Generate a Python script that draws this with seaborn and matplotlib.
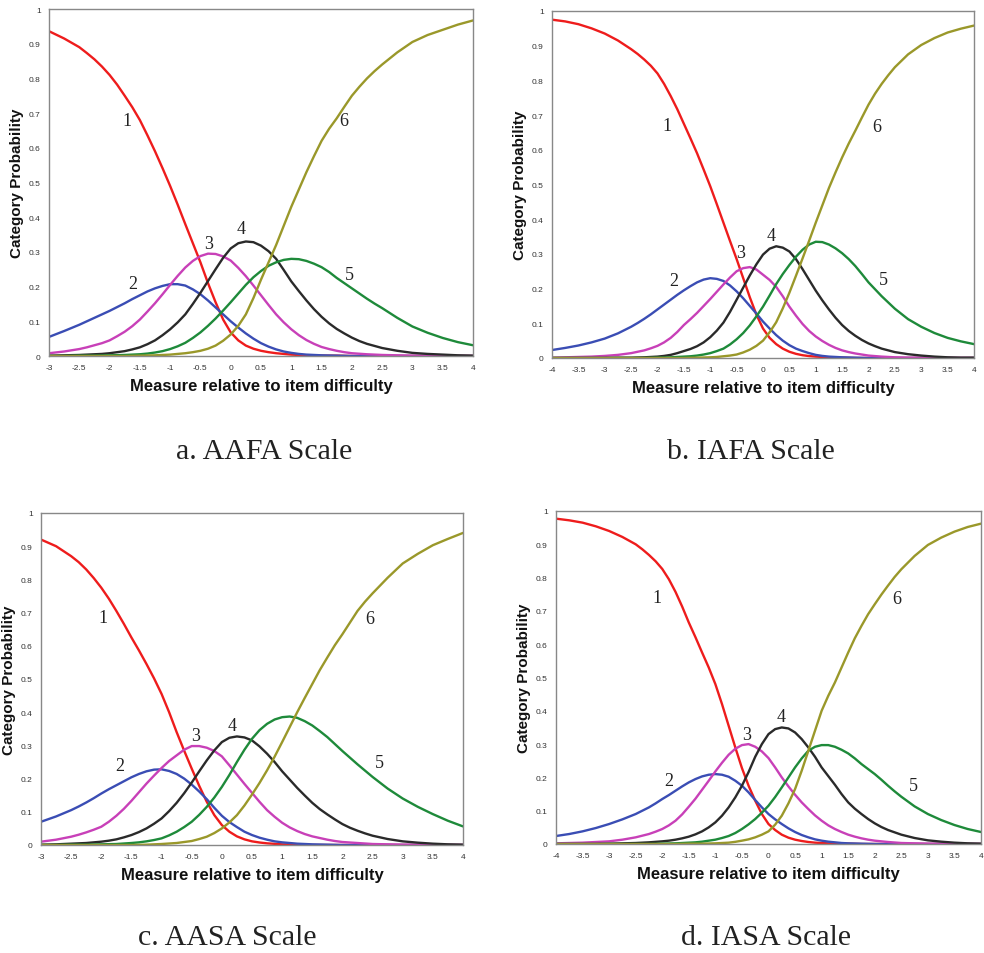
import matplotlib
matplotlib.use("Agg")
import matplotlib.pyplot as plt
import numpy as np
import pandas as pd
import seaborn as sns

# ---------------- data ----------------
x_a = [-3, -2.75,
       -2.5, -2.375, -2.25, -2.125, -2, -1.875, -1.75, -1.625, -1.5,
       -1.375, -1.25, -1.125, -1, -0.875, -0.75, -0.625, -0.5, -0.375, -0.25, -0.125, 0,
       0.125, 0.25, 0.375, 0.5, 0.625, 0.75, 0.875, 1, 1.125, 1.25, 1.375,
       1.5, 1.625, 1.75, 1.875, 2, 2.125, 2.25, 2.375, 2.5,
       2.75, 3, 3.25, 3.5, 3.75, 4]
a_cat1 = [.936, .915,
          .89, .873, .855, .834, .81, .782, .75, .717, .68,
          .636, .59, .541, .49, .436, .38, .325, .27, .21, .155, .105, .068,
          .045, .03, .021, .015, .011, .008, .006, .004, .003, .002, .0015,
          .001, .001, .001, .0005, 0, 0, 0, 0, 0,
          0, 0, 0, 0, 0, 0]
a_cat2 = [.055, .072,
          .09, .1, .11, .12, .13, .141, .152, .164, .175,
          .186, .195, .202, .207, .207, .203, .192, .178, .16, .14, .12, .10,
          .082, .065, .05, .037, .027, .019, .013, .009, .006, .004, .003,
          .002, .0015, .001, .0005, 0, 0, 0, 0, 0,
          0, 0, 0, 0, 0, 0]
a_cat3 = [.008, .013,
          .02, .025, .031, .037, .045, .057, .07, .086, .105,
          .128, .152, .178, .205, .231, .255, .274, .288, .295, .294, .287, .275,
          .254, .23, .203, .175, .147, .12, .097, .077, .06, .046, .035,
          .026, .02, .015, .011, .008, .0065, .005, .004, .003,
          .002, .001, .001, 0, 0, 0]
a_cat4 = [.001, .002,
          .003, .004, .005, .006, .008, .011, .014, .019, .025,
          .034, .045, .06, .077, .097, .12, .15, .182, .216, .25, .283, .31,
          .325, .33, .328, .318, .302, .28, .248, .215, .187, .16, .135,
          .113, .094, .078, .065, .053, .043, .035, .029, .023,
          .015, .009, .006, .004, .002, .001]
a_cat5 = [0, 0,
          .001, .001, .001, .0015, .002, .0025, .003, .004, .005,
          .007, .01, .014, .02, .028, .038, .052, .068, .087, .108, .131, .155,
          .18, .205, .227, .245, .26, .27, .277, .28, .279, .274, .266,
          .256, .242, .225, .21, .195, .18, .165, .151, .138,
          .11, .085, .067, .052, .04, .031]
a_cat6 = [0, 0,
          0, 0, 0, 0, 0, 0, 0, .0005, .001,
          .0015, .002, .003, .004, .006, .008, .011, .015, .021, .03, .044, .062,
          .087, .12, .167, .22, .27, .32, .375, .43, .48, .53, .576,
          .62, .655, .685, .718, .75, .776, .80, .821, .84,
          .875, .905, .925, .94, .955, .967]

x_b = [-4, -3.75, -3.5, -3.25, -3, -2.75,
       -2.5, -2.375, -2.25, -2.125, -2, -1.875, -1.75, -1.625, -1.5,
       -1.375, -1.25, -1.125, -1, -0.875, -0.75, -0.625, -0.5, -0.375, -0.25, -0.125, 0,
       0.125, 0.25, 0.375, 0.5, 0.625, 0.75, 0.875, 1, 1.125, 1.25, 1.375,
       1.5, 1.625, 1.75, 1.875, 2, 2.125, 2.25, 2.375, 2.5,
       2.75, 3, 3.25, 3.5, 3.75, 4]
b_cat1 = [.975, .970, .962, .950, .935, .915,
          .89, .876, .86, .842, .82, .79, .755, .717, .675,
          .633, .59, .543, .495, .443, .39, .337, .285, .23, .175, .125, .085,
          .058, .04, .027, .018, .012, .008, .0055, .004, .003, .002, .0015,
          .001, .0005, 0, 0, 0, 0, 0, 0, 0,
          0, 0, 0, 0, 0, 0]
b_cat2 = [.023, .029, .036, .045, .056, .071,
          .09, .101, .113, .126, .14, .154, .168, .182, .195,
          .207, .218, .226, .23, .228, .222, .209, .192, .172, .15, .128, .105,
          .085, .066, .05, .037, .027, .02, .014, .009, .006, .004, .003,
          .002, .0015, .001, .0005, 0, 0, 0, 0, 0,
          0, 0, 0, 0, 0, 0]
b_cat3 = [.001, .002, .003, .004, .006, .009,
          .014, .018, .022, .028, .035, .045, .058, .075, .095,
          .112, .13, .15, .17, .191, .212, .232, .25, .259, .262, .255, .24,
          .225, .205, .178, .148, .122, .098, .078, .062, .049, .038, .029,
          .022, .017, .013, .01, .007, .0055, .004, .003, .002,
          .001, .001, 0, 0, 0, 0]
b_cat4 = [0, 0, 0, 0, 0, .001,
          .001, .0015, .002, .003, .004, .006, .009, .014, .02,
          .026, .034, .045, .06, .079, .102, .133, .168, .203, .238, .27, .298,
          .315, .322, .318, .307, .285, .256, .225, .194, .166, .14, .116,
          .095, .078, .064, .052, .042, .034, .027, .022, .017,
          .011, .007, .004, .002, .001, .001]
b_cat5 = [0, 0, 0, 0, 0, 0,
          0, 0, 0, .0005, .001, .0015, .002, .003, .004,
          .005, .007, .01, .014, .02, .027, .039, .054, .072, .094, .12, .148,
          .18, .213, .242, .268, .292, .312, .327, .335, .334, .327, .316,
          .302, .285, .265, .242, .218, .198, .178, .16, .142,
          .112, .09, .072, .058, .048, .04]
b_cat6 = [0, 0, 0, 0, 0, 0,
          0, 0, 0, 0, 0, 0, 0, 0, 0,
          .0005, .001, .0015, .002, .003, .005, .007, .01, .016, .024, .035, .05,
          .074, .103, .143, .188, .237, .287, .338, .39, .44, .49, .535,
          .578, .618, .655, .693, .73, .762, .79, .815, .838,
          .875, .902, .922, .938, .949, .958]

x_c = [-3, -2.75,
       -2.5, -2.375, -2.25, -2.125, -2, -1.875, -1.75, -1.625, -1.5,
       -1.375, -1.25, -1.125, -1, -0.875, -0.75, -0.625, -0.5, -0.375, -0.25, -0.125, 0,
       0.125, 0.25, 0.375, 0.5, 0.625, 0.75, 0.875, 1, 1.125, 1.25, 1.375,
       1.5, 1.625, 1.75, 1.875, 2, 2.125, 2.25, 2.375, 2.5,
       2.75, 3, 3.25, 3.5, 3.75, 4]
c_cat1 = [.92, .90,
          .87, .852, .83, .804, .775, .742, .705, .666, .625,
          .586, .545, .502, .455, .4, .34, .284, .23, .178, .13, .09, .06,
          .04, .026, .017, .011, .0075, .005, .0035, .002, .0015, .001, .0005,
          0, 0, 0, 0, 0, 0, 0, 0, 0,
          0, 0, 0, 0, 0, 0]
c_cat2 = [.07, .086,
          .105, .116, .128, .141, .155, .168, .18, .192, .204,
          .214, .222, .227, .228, .223, .214, .2, .182, .161, .138, .112, .088,
          .069, .054, .04, .03, .022, .016, .011, .008, .006, .004, .003,
          .002, .0015, .001, .0005, 0, 0, 0, 0, 0,
          0, 0, 0, 0, 0, 0]
c_cat3 = [.01, .016,
          .025, .031, .038, .046, .055, .07, .088, .109, .133,
          .159, .185, .209, .232, .253, .27, .287, .298, .298, .293, .283, .267,
          .24, .212, .184, .157, .13, .105, .085, .067, .053, .042, .033,
          .026, .021, .016, .012, .009, .0075, .006, .0045, .003,
          .002, .001, .001, 0, 0, 0]
c_cat4 = [.001, .002,
          .004, .005, .006, .008, .01, .013, .017, .023, .03,
          .039, .05, .064, .08, .102, .127, .156, .188, .222, .255, .285, .31,
          .323, .327, .324, .315, .297, .275, .25, .222, .197, .172, .149,
          .127, .108, .092, .077, .063, .052, .043, .035, .028,
          .018, .011, .007, .004, .002, .001]
c_cat5 = [0, 0,
          .001, .001, .001, .0015, .002, .0025, .003, .0045, .006,
          .008, .011, .015, .02, .029, .04, .054, .07, .091, .115, .143, .175,
          .211, .25, .287, .32, .346, .365, .378, .385, .387, .383, .373,
          .36, .343, .325, .304, .283, .263, .243, .224, .205,
          .17, .14, .115, .093, .073, .056]
c_cat6 = [0, 0,
          0, 0, 0, 0, 0, 0, 0, 0, 0,
          .0005, .001, .002, .003, .0045, .006, .009, .012, .018, .025, .036, .05,
          .068, .09, .119, .152, .187, .225, .266, .31, .355, .4, .443,
          .485, .527, .565, .602, .635, .67, .705, .733, .758,
          .805, .848, .877, .903, .922, .94]

x_d = [-4, -3.75, -3.5, -3.25, -3, -2.75,
       -2.5, -2.375, -2.25, -2.125, -2, -1.875, -1.75, -1.625, -1.5,
       -1.375, -1.25, -1.125, -1, -0.875, -0.75, -0.625, -0.5, -0.375, -0.25, -0.125, 0,
       0.125, 0.25, 0.375, 0.5, 0.625, 0.75, 0.875, 1, 1.125, 1.25, 1.375,
       1.5, 1.625, 1.75, 1.875, 2, 2.125, 2.25, 2.375, 2.5,
       2.75, 3, 3.25, 3.5, 3.75, 4]
d_cat1 = [.977, .972, .965, .954, .94, .922,
          .9, .885, .868, .849, .826, .795, .757, .713, .665,
          .621, .575, .53, .48, .42, .355, .29, .228, .175, .13, .09, .06,
          .042, .028, .019, .013, .009, .006, .004, .003, .002, .001, .001,
          .001, .0005, 0, 0, 0, 0, 0, 0, 0,
          0, 0, 0, 0, 0, 0]
d_cat2 = [.024, .03, .038, .048, .06, .074,
          .09, .1, .11, .122, .135, .147, .16, .173, .185,
          .195, .203, .208, .21, .208, .202, .19, .175, .155, .132, .11, .09,
          .074, .06, .047, .036, .027, .02, .014, .01, .007, .005, .003,
          .002, .0015, .001, .0005, 0, 0, 0, 0, 0,
          0, 0, 0, 0, 0, 0]
d_cat3 = [.002, .003, .004, .006, .008, .013,
          .02, .025, .03, .037, .045, .056, .07, .089, .112,
          .136, .163, .19, .218, .244, .268, .286, .297, .3, .292, .278, .258,
          .23, .2, .173, .148, .125, .105, .086, .07, .056, .045, .036,
          .028, .022, .017, .013, .01, .008, .006, .0045, .003,
          .002, .001, .001, 0, 0, 0]
d_cat4 = [0, 0, 0, 0, .001, .002,
          .003, .004, .005, .0065, .008, .01, .013, .017, .022,
          .029, .038, .05, .065, .085, .11, .14, .175, .216, .262, .3, .33,
          .345, .35, .347, .335, .315, .29, .262, .23, .204, .178, .15,
          .125, .106, .09, .075, .062, .051, .042, .035, .028,
          .018, .011, .007, .004, .002, .001]
d_cat5 = [0, 0, 0, 0, 0, 0,
          0, 0, 0, .0005, .001, .0015, .002, .003, .004,
          .005, .007, .01, .013, .018, .024, .033, .045, .059, .075, .094, .115,
          .141, .17, .2, .23, .257, .28, .292, .297, .297, .292, .283,
          .272, .257, .24, .225, .21, .193, .175, .158, .142,
          .113, .09, .072, .057, .045, .036]
d_cat6 = [0, 0, 0, 0, 0, 0,
          0, 0, 0, 0, 0, 0, 0, .0005, .001,
          .001, .001, .0015, .002, .003, .004, .0065, .01, .014, .02, .028, .038,
          .058, .085, .122, .165, .22, .28, .34, .4, .445, .485, .53,
          .575, .618, .655, .69, .72, .749, .776, .802, .825,
          .865, .898, .92, .938, .952, .962]

categories = ["1", "2", "3", "4", "5", "6"]
captions = ["a. AAFA Scale", "b. IAFA Scale", "c. AASA Scale", "d. IASA Scale"]
x_label = "Measure relative to item difficulty"
y_label = "Category Probability"

# curve-number label positions (data coords) per panel
lab_a = [(-1.72, 0.68), (-1.62, 0.21), (-0.37, 0.325), (0.17, 0.366), (1.96, 0.234), (1.87, 0.679)]
lab_b = [(-1.82, 0.669), (-1.70, 0.222), (-0.43, 0.305), (0.15, 0.354), (2.28, 0.227), (2.16, 0.667)]
lab_c = [(-1.98, 0.685), (-1.70, 0.239), (-0.44, 0.331), (0.17, 0.361), (2.62, 0.247), (2.45, 0.683)]
lab_d = [(-2.09, 0.74), (-1.88, 0.192), (-0.42, 0.328), (0.23, 0.383), (2.73, 0.175), (2.41, 0.738)]

# ---------------- style ----------------
sns.set_theme(style="white")
plt.rcParams["font.family"] = ["Liberation Sans", "DejaVu Sans"]
plt.rcParams["axes.unicode_minus"] = False

palette = {"1": "#ee1c1c", "2": "#3a4db4", "3": "#c840b8", "4": "#2a2a2a",
           "5": "#1e8a3a", "6": "#9a982a"}

W, H = 984, 954
fig = plt.figure(figsize=(W / 100, H / 100), dpi=100)

# axes boxes in pixels: left, top, right, bottom
boxes = [(49, 10, 473, 357), (552, 12, 974, 359), (41, 514, 463, 846), (556, 512, 981, 845)]
cap_pos = [(264, 452), (751, 452), (227, 938), (766, 938)]

panels = [
    (x_a, [a_cat1, a_cat2, a_cat3, a_cat4, a_cat5, a_cat6], lab_a, (-3, 4)),
    (x_b, [b_cat1, b_cat2, b_cat3, b_cat4, b_cat5, b_cat6], lab_b, (-4, 4)),
    (x_c, [c_cat1, c_cat2, c_cat3, c_cat4, c_cat5, c_cat6], lab_c, (-3, 4)),
    (x_d, [d_cat1, d_cat2, d_cat3, d_cat4, d_cat5, d_cat6], lab_d, (-4, 4)),
]

for i, (xs, series, labs, (x0, x1)) in enumerate(panels):
    l, t, r, b = boxes[i]
    ax = fig.add_axes([l / W, 1 - b / H, (r - l) / W, (b - t) / H])
    frames = []
    for cat, vals in zip(categories, series):
        assert len(vals) == len(xs), (i, cat, len(vals), len(xs))
        frames.append(pd.DataFrame({"x": xs, "p": vals, "cat": cat}))
    df = pd.concat(frames, ignore_index=True)
    sns.lineplot(data=df, x="x", y="p", hue="cat", palette=palette, linewidth=1.7,
                 legend=False, ax=ax, estimator=None, sort=True,
                 solid_joinstyle="round", solid_capstyle="round")
    ax.set_xlim(x0, x1)
    ax.set_ylim(0, 1)
    xt = np.arange(x0, x1 + 0.01, 0.5)
    ax.set_xticks(xt)
    ax.set_xticklabels([f"{v:g}" for v in xt])
    yt = np.round(np.arange(0, 1.01, 0.1), 1)
    ax.set_yticks(yt)
    ax.set_yticklabels([f"{v:g}" for v in yt])
    ax.tick_params(axis="x", direction="inout", length=5, width=0.8, colors="#777777",
                   labelcolor="#333333", labelsize=6, pad=3)
    ax.tick_params(axis="y", direction="out", length=4, width=0.8, colors="#777777",
                   labelcolor="#333333", labelsize=6, pad=2)
    for s in ax.spines.values():
        s.set_color("#888888")
        s.set_linewidth(1.0)
    ax.set_xlabel(x_label, fontsize=12, fontweight="bold", color="#111111")
    ax.set_ylabel(y_label, fontsize=11, fontweight="bold", color="#111111")
    ax.xaxis.set_label_coords(0.5, -30 / (b - t))
    ax.xaxis.label.set_va("center")
    ax.yaxis.set_label_coords(-32 / (r - l), 0.5)
    ax.yaxis.label.set_va("center")
    for cat, (lx, ly) in zip(categories, labs):
        ax.text(lx, ly, cat, fontsize=13, family="Liberation Serif", color="#222222",
                ha="center", va="center")
    cx, cy = cap_pos[i]
    fig.text(cx / W, 1 - cy / H, captions[i], fontsize=21.5, family="Liberation Serif",
             color="#222222", ha="center", va="center")

fig.savefig("out.png", dpi=100)
